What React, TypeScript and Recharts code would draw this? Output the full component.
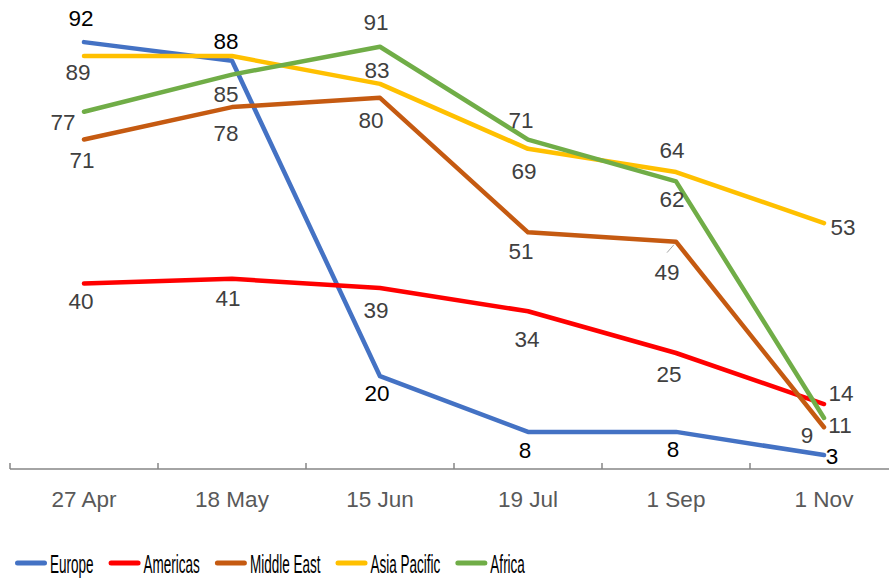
import { LineChart, Line, XAxis, YAxis, LabelList } from 'recharts';

const CATEGORIES = ['27 Apr', '18 May', '15 Jun', '19 Jul', '1 Sep', '1 Nov'];
const EUROPE = [92, 88, 20, 8, 8, 3];
const AMERICAS = [40, 41, 39, 34, 25, 14];
const MIDDLE_EAST = [71, 78, 80, 51, 49, 9];
const ASIA_PACIFIC = [89, 89, 83, 69, 64, 53];
const AFRICA = [77, 85, 91, 71, 62, 11];

const SERIES = [
  { key: 'europe', name: 'Europe', values: EUROPE, color: '#4472C4', labelColor: '#000000' },
  { key: 'americas', name: 'Americas', values: AMERICAS, color: '#FF0000', labelColor: '#404040' },
  { key: 'middleEast', name: 'Middle East', values: MIDDLE_EAST, color: '#C55A11', labelColor: '#404040' },
  { key: 'asiaPacific', name: 'Asia Pacific', values: ASIA_PACIFIC, color: '#FFC000', labelColor: '#404040' },
  { key: 'africa', name: 'Africa', values: AFRICA, color: '#70AD47', labelColor: '#404040' },
];

// where each data label sits: offset of the label centre from its point (null = not shown)
const LABEL_OFFSETS: Record<string, ([number, number] | null)[]> = {
  europe: [[-3, -24], [-6, -20], [-3, 17], [-3, 18], [-3, 17], [8, 1]],
  americas: [[-3, 18], [-4, 19], [-4, 22], [-1, 28], [-7, 21], [17, -11]],
  middleEast: [[-2, 20], [-6, 26], [-9, 22], [-7, 19], [-9, 30], [-17, 8]],
  asiaPacific: [[-6, 16], null, [-3, -14], [-4, 22], [-4, -22], [19, 4]],
  africa: [[-21, 10], [-6, 19], [-4, -25], [-7, -20], [-4, 18], [16, 7]],
};
const LEADER_LINES: Record<string, number[]> = { middleEast: [4] };

const data = CATEGORIES.map((date, i) => {
  const row: Record<string, string | number> = { date };
  SERIES.forEach((s) => {
    row[s.key] = s.values[i];
  });
  return row;
});

const FONT = '"Liberation Sans", Arial, sans-serif';
const CHART_W = 900;
const CHART_H = 581;
const MARGIN = { top: 5, right: 2, bottom: 62, left: 10 };
const PLOT_W = CHART_W - MARGIN.left - MARGIN.right;
const HALF_BAND = PLOT_W / CATEGORIES.length / 2;

function AxisTick(props: any) {
  const { x, y, payload } = props;
  return (
    <g>
      <line x1={x - HALF_BAND} x2={x - HALF_BAND} y1={y - 6} y2={y} stroke="#868686" strokeWidth={1.5} />
      <text x={x} y={y + 38} textAnchor="middle" fontSize={22.5} fill="#595959" fontFamily={FONT}>
        {payload.value}
      </text>
    </g>
  );
}

function makeLabel(seriesKey: string, color: string) {
  return (props: any) => {
    const { index, value } = props;
    const x = props.x ?? props.viewBox?.x;
    const y = props.y ?? props.viewBox?.y;
    const off = LABEL_OFFSETS[seriesKey]?.[index];
    if (!off || x == null || y == null) return null;
    const cx = x + off[0];
    const cy = y + off[1];
    const leader = (LEADER_LINES[seriesKey] || []).includes(index);
    return (
      <g>
        {leader && (
          <line x1={cx} y1={cy - 19} x2={x - 2} y2={y + 3} stroke="#A6A6A6" strokeWidth={1} />
        )}
        <text x={cx} y={cy + 8} textAnchor="middle" fontSize={22.5} fill={color} fontFamily={FONT}>
          {value}
        </text>
      </g>
    );
  };
}

function measure(text: string, font: string) {
  const c = document.createElement('canvas').getContext('2d');
  if (!c) return text.length * 12;
  c.font = font;
  return c.measureText(text).width;
}

// legend text in the original is tall but squeezed horizontally
const LEGEND_FONT = 25.5;
const LEGEND_SQUEEZE = 0.53;

function ChartLegend() {
  let x = 15;
  const items = SERIES.map((s) => {
    const w = measure(s.name, `${LEGEND_FONT}px ${FONT}`) * LEGEND_SQUEEZE;
    const item = { ...s, x, w };
    x += 35 + w + 15;
    return item;
  });
  return (
    <svg width={889} height={33} style={{ position: 'absolute', left: 0, top: 548 }}>
      {items.map((it) => (
        <g key={it.key}>
          <line x1={it.x + 2.5} x2={it.x + 29.5} y1={15} y2={15} stroke={it.color} strokeWidth={5} strokeLinecap="round" />
          <text
            transform={`translate(${it.x + 35},25) scale(${LEGEND_SQUEEZE},1)`}
            fontSize={LEGEND_FONT}
            fontFamily={FONT}
            fill="#000000"
          >
            {it.name}
          </text>
        </g>
      ))}
    </svg>
  );
}

export default function App() {
  return (
    <div
      style={{
        position: 'fixed',
        left: 0,
        top: 0,
        width: 889,
        height: 581,
        overflow: 'hidden',
        background: '#ffffff',
        fontFamily: FONT,
      }}
    >
      <LineChart width={CHART_W} height={CHART_H} data={data} margin={MARGIN}>
        <XAxis
          dataKey="date"
          height={50}
          padding={{ left: HALF_BAND, right: HALF_BAND }}
          tickLine={false}
          tickSize={0}
          tickMargin={0}
          axisLine={{ stroke: '#868686', strokeWidth: 1.5 }}
          tick={<AxisTick />}
          interval={0}
        />
        <YAxis hide domain={[0, 100]} />
        {SERIES.map((s) => (
          <Line
            key={s.key}
            dataKey={s.key}
            name={s.name}
            stroke={s.color}
            strokeWidth={4.5}
            strokeLinecap="round"
            strokeLinejoin="round"
            dot={false}
            activeDot={false}
            isAnimationActive={false}
          >
            <LabelList dataKey={s.key} content={makeLabel(s.key, s.labelColor)} />
          </Line>
        ))}
      </LineChart>
      <ChartLegend />
    </div>
  );
}
